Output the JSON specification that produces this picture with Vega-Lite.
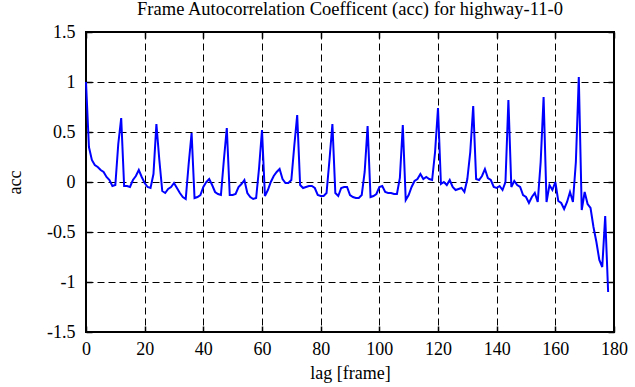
{
  "$schema": "https://vega.github.io/schema/vega-lite/v6.json",
  "width": 528,
  "height": 300,
  "autosize": "none",
  "padding": {"left": 86, "top": 32, "right": 21, "bottom": 55},
  "background": "white",
  "title": {
    "text": "Frame Autocorrelation Coefficent (acc) for highway-11-0",
    "font": "Liberation Serif",
    "fontSize": 18.5,
    "fontWeight": "normal",
    "color": "black",
    "anchor": "middle",
    "offset": 5
  },
  "config": {
    "view": {"stroke": "black", "strokeWidth": 2},
    "axis": {
      "labelFont": "Liberation Serif",
      "labelFontSize": 18,
      "labelColor": "black",
      "titleFont": "Liberation Serif",
      "titleFontSize": 18,
      "titleFontWeight": "normal",
      "titleColor": "black",
      "tickColor": "black",
      "tickWidth": 1.5,
      "domain": false
    }
  },
  "data": {
    "values": [
      {"lag": 0, "acc": 1.0}, {"lag": 1, "acc": 0.35}, {"lag": 2, "acc": 0.22}, {"lag": 3, "acc": 0.17},
      {"lag": 4, "acc": 0.15}, {"lag": 5, "acc": 0.12}, {"lag": 6, "acc": 0.1}, {"lag": 7, "acc": 0.05},
      {"lag": 8, "acc": 0.02}, {"lag": 9, "acc": -0.04}, {"lag": 10, "acc": -0.03}, {"lag": 11, "acc": 0.38},
      {"lag": 12, "acc": 0.64}, {"lag": 13, "acc": -0.04}, {"lag": 14, "acc": -0.04}, {"lag": 15, "acc": -0.05},
      {"lag": 16, "acc": 0.02}, {"lag": 17, "acc": 0.06}, {"lag": 18, "acc": 0.12}, {"lag": 19, "acc": 0.05},
      {"lag": 20, "acc": -0.01}, {"lag": 21, "acc": -0.05}, {"lag": 22, "acc": -0.06}, {"lag": 23, "acc": 0.08},
      {"lag": 24, "acc": 0.58}, {"lag": 25, "acc": 0.22}, {"lag": 26, "acc": -0.09}, {"lag": 27, "acc": -0.11},
      {"lag": 28, "acc": -0.07}, {"lag": 29, "acc": -0.05}, {"lag": 30, "acc": -0.01}, {"lag": 31, "acc": -0.06},
      {"lag": 32, "acc": -0.11}, {"lag": 33, "acc": -0.15}, {"lag": 34, "acc": -0.17}, {"lag": 35, "acc": 0.18},
      {"lag": 36, "acc": 0.49}, {"lag": 37, "acc": -0.16}, {"lag": 38, "acc": -0.15}, {"lag": 39, "acc": -0.13},
      {"lag": 40, "acc": -0.05}, {"lag": 41, "acc": 0.0}, {"lag": 42, "acc": 0.03}, {"lag": 43, "acc": -0.03},
      {"lag": 44, "acc": -0.1}, {"lag": 45, "acc": -0.12}, {"lag": 46, "acc": -0.13}, {"lag": 47, "acc": 0.22},
      {"lag": 48, "acc": 0.54}, {"lag": 49, "acc": -0.13}, {"lag": 50, "acc": -0.13}, {"lag": 51, "acc": -0.12},
      {"lag": 52, "acc": -0.05}, {"lag": 53, "acc": -0.02}, {"lag": 54, "acc": 0.02}, {"lag": 55, "acc": -0.11},
      {"lag": 56, "acc": -0.15}, {"lag": 57, "acc": -0.17}, {"lag": 58, "acc": -0.16}, {"lag": 59, "acc": 0.14},
      {"lag": 60, "acc": 0.52}, {"lag": 61, "acc": -0.14}, {"lag": 62, "acc": -0.08}, {"lag": 63, "acc": 0.0},
      {"lag": 64, "acc": 0.06}, {"lag": 65, "acc": 0.1}, {"lag": 66, "acc": 0.13}, {"lag": 67, "acc": 0.03},
      {"lag": 68, "acc": -0.01}, {"lag": 69, "acc": -0.01}, {"lag": 70, "acc": 0.02}, {"lag": 71, "acc": 0.36},
      {"lag": 72, "acc": 0.67}, {"lag": 73, "acc": -0.03}, {"lag": 74, "acc": -0.06}, {"lag": 75, "acc": -0.05},
      {"lag": 76, "acc": -0.04}, {"lag": 77, "acc": -0.04}, {"lag": 78, "acc": -0.06}, {"lag": 79, "acc": -0.13},
      {"lag": 80, "acc": -0.14}, {"lag": 81, "acc": -0.14}, {"lag": 82, "acc": -0.11}, {"lag": 83, "acc": 0.22},
      {"lag": 84, "acc": 0.58}, {"lag": 85, "acc": -0.11}, {"lag": 86, "acc": -0.14}, {"lag": 87, "acc": -0.06},
      {"lag": 88, "acc": -0.05}, {"lag": 89, "acc": -0.05}, {"lag": 90, "acc": -0.13}, {"lag": 91, "acc": -0.15},
      {"lag": 92, "acc": -0.16}, {"lag": 93, "acc": -0.16}, {"lag": 94, "acc": -0.13}, {"lag": 95, "acc": 0.1},
      {"lag": 96, "acc": 0.56}, {"lag": 97, "acc": -0.15}, {"lag": 98, "acc": -0.14}, {"lag": 99, "acc": -0.12},
      {"lag": 100, "acc": -0.05}, {"lag": 101, "acc": -0.04}, {"lag": 102, "acc": -0.1}, {"lag": 103, "acc": -0.11},
      {"lag": 104, "acc": -0.11}, {"lag": 105, "acc": -0.12}, {"lag": 106, "acc": -0.12}, {"lag": 107, "acc": 0.04},
      {"lag": 108, "acc": 0.57}, {"lag": 109, "acc": -0.18}, {"lag": 110, "acc": -0.13}, {"lag": 111, "acc": -0.05},
      {"lag": 112, "acc": 0.01}, {"lag": 113, "acc": 0.03}, {"lag": 114, "acc": 0.08}, {"lag": 115, "acc": 0.03},
      {"lag": 116, "acc": 0.05}, {"lag": 117, "acc": 0.03}, {"lag": 118, "acc": 0.02}, {"lag": 119, "acc": 0.3},
      {"lag": 120, "acc": 0.74}, {"lag": 121, "acc": -0.02}, {"lag": 122, "acc": 0.0}, {"lag": 123, "acc": -0.03},
      {"lag": 124, "acc": 0.02}, {"lag": 125, "acc": -0.05}, {"lag": 126, "acc": -0.08}, {"lag": 127, "acc": -0.07},
      {"lag": 128, "acc": -0.06}, {"lag": 129, "acc": -0.1}, {"lag": 130, "acc": 0.03}, {"lag": 131, "acc": 0.3},
      {"lag": 132, "acc": 0.76}, {"lag": 133, "acc": 0.03}, {"lag": 134, "acc": 0.02}, {"lag": 135, "acc": 0.06},
      {"lag": 136, "acc": 0.13}, {"lag": 137, "acc": 0.04}, {"lag": 138, "acc": 0.02}, {"lag": 139, "acc": -0.05},
      {"lag": 140, "acc": -0.06}, {"lag": 141, "acc": -0.04}, {"lag": 142, "acc": -0.08}, {"lag": 143, "acc": 0.0},
      {"lag": 144, "acc": 0.82}, {"lag": 145, "acc": -0.05}, {"lag": 146, "acc": 0.01}, {"lag": 147, "acc": -0.03},
      {"lag": 148, "acc": -0.05}, {"lag": 149, "acc": -0.13}, {"lag": 150, "acc": -0.15}, {"lag": 151, "acc": -0.21},
      {"lag": 152, "acc": -0.15}, {"lag": 153, "acc": -0.11}, {"lag": 154, "acc": -0.2}, {"lag": 155, "acc": 0.2},
      {"lag": 156, "acc": 0.85}, {"lag": 157, "acc": -0.2}, {"lag": 158, "acc": -0.03}, {"lag": 159, "acc": -0.08},
      {"lag": 160, "acc": 0.0}, {"lag": 161, "acc": -0.19}, {"lag": 162, "acc": -0.21}, {"lag": 163, "acc": -0.27},
      {"lag": 164, "acc": -0.2}, {"lag": 165, "acc": -0.1}, {"lag": 166, "acc": -0.2}, {"lag": 167, "acc": 0.2},
      {"lag": 168, "acc": 1.05}, {"lag": 169, "acc": -0.28}, {"lag": 170, "acc": -0.1}, {"lag": 171, "acc": -0.22},
      {"lag": 172, "acc": -0.26}, {"lag": 173, "acc": -0.45}, {"lag": 174, "acc": -0.6}, {"lag": 175, "acc": -0.78},
      {"lag": 176, "acc": -0.85}, {"lag": 177, "acc": -0.34}, {"lag": 178, "acc": -1.1}
    ]
  },
  "layer": [
    {
      "mark": {"type": "line", "opacity": 0},
      "encoding": {
        "x": {
          "field": "lag", "type": "quantitative",
          "scale": {"domain": [0, 180], "nice": false, "zero": false},
          "axis": {"orient": "top", "values": [0, 20, 40, 60, 80, 100, 120, 140, 160, 180], "labels": false, "grid": false, "title": null, "tickSize": -6}
        },
        "y": {
          "field": "acc", "type": "quantitative",
          "scale": {"domain": [-1.5, 1.5], "nice": false, "zero": false},
          "axis": {"orient": "right", "values": [-1.5, -1, -0.5, 0, 0.5, 1, 1.5], "labels": false, "grid": false, "title": null, "tickSize": -6}
        }
      }
    },
    {
      "mark": {"type": "line", "color": "#0000ff", "strokeWidth": 2},
      "encoding": {
        "x": {
          "field": "lag", "type": "quantitative",
          "scale": {"domain": [0, 180], "nice": false, "zero": false},
          "axis": {
            "orient": "bottom",
            "values": [0, 20, 40, 60, 80, 100, 120, 140, 160, 180],
            "labelExpr": "'' + datum.value",
            "grid": true, "gridColor": "black", "gridOpacity": 1, "gridDash": [7, 4], "gridWidth": 1,
            "tickSize": -6, "labelPadding": 14, "labelFlush": false,
            "title": "lag [frame]", "titlePadding": 6
          }
        },
        "y": {
          "field": "acc", "type": "quantitative",
          "scale": {"domain": [-1.5, 1.5], "nice": false, "zero": false},
          "axis": {
            "orient": "left",
            "values": [-1.5, -1, -0.5, 0, 0.5, 1, 1.5],
            "labelExpr": "'' + datum.value",
            "grid": true, "gridColor": "black", "gridOpacity": 1, "gridDash": [7, 4], "gridWidth": 1,
            "tickSize": -6, "labelPadding": 17, "labelFlush": false,
            "title": "acc", "titlePadding": 22
          }
        }
      }
    }
  ],
  "resolve": {"axis": {"x": "independent", "y": "independent"}}
}
